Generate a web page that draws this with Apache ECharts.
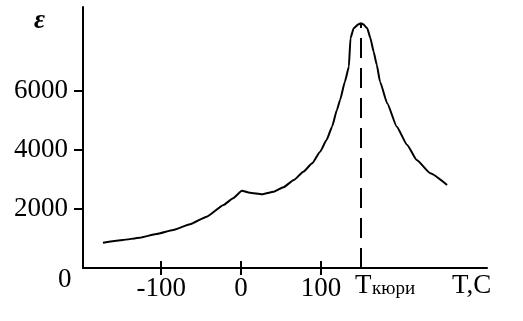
<!DOCTYPE html>
<html>
<head>
<meta charset="utf-8">
<script src="https://cdn.jsdelivr.net/npm/echarts@6/dist/echarts.min.js"></script>
<style>
  html, body { margin: 0; padding: 0; background: #fff; }
  #chart { width: 523px; height: 321px; }
</style>
</head>
<body>
<div id="chart"></div>
<script>
// температура, C
const temps = [-173, -148, -127, -106, -85, -64, -43, -22, -10, 1,
  11, 26, 41, 53, 66, 78, 89, 99, 107, 114,
  120, 124, 130, 135, 137, 141, 147, 150, 153, 158,
  162, 166, 170, 174, 183, 195, 208, 220, 237, 258]
// диэлектрическая проницаемость
const epsValues = [858, 949, 1027, 1153, 1289, 1482, 1740, 2136, 2364, 2621,
  2553, 2499, 2587, 2737, 2984, 3266, 3550, 3944, 4340, 4792,
  5358, 5697, 6318, 6826, 7789, 8128, 8264, 8300, 8264, 8128,
  7789, 7335, 6884, 6318, 5585, 4791, 4171, 3662, 3211, 2815]
const xTicks = [-100, 0, 100]
const yTicks = [2000, 4000, 6000]
const curieT = 150
const curieEps = 8300

const serif = '"Liberation Serif", "DejaVu Serif", serif'
const chart = echarts.init(document.getElementById('chart'))

const xBase = {
  type: 'value',
  min: -198,
  max: 308,
  position: 'bottom',
  splitLine: { show: false }
}

chart.setOption({
  backgroundColor: '#fff',
  animation: false,
  grid: { left: 83, right: 36, top: 7, bottom: 53 },
  xAxis: [Object.assign({}, xBase, {
    axisLine: { onZero: false, lineStyle: { color: '#000', width: 2 } },
    axisTick: { show: true, length: 7, customValues: xTicks, lineStyle: { color: '#000', width: 2 } },
    axisLabel: {
      customValues: xTicks,
      formatter: v => String(v),
      margin: 7,
      color: '#000',
      fontFamily: serif,
      fontSize: 27
    }
  }), Object.assign({}, xBase, {
    axisLine: { show: false, onZero: false },
    axisTick: { show: true, inside: true, length: 7, customValues: xTicks, lineStyle: { color: '#000', width: 2 } },
    axisLabel: { show: false }
  })],
  yAxis: {
    type: 'value',
    min: 0,
    max: 8850,
    splitLine: { show: false },
    axisLine: { show: true, onZero: false, lineStyle: { color: '#000', width: 2 } },
    axisTick: { show: true, length: 9, customValues: yTicks, lineStyle: { color: '#000', width: 2 } },
    axisLabel: {
      customValues: yTicks,
      formatter: v => String(v),
      margin: 15,
      color: '#000',
      fontFamily: serif,
      fontSize: 27
    }
  },
  series: [{
    type: 'line',
    data: temps.map((t, i) => [t, epsValues[i]]),
    smooth: 0.15,
    smoothMonotone: 'x',
    showSymbol: false,
    lineStyle: { color: '#000', width: 2 },
    markLine: {
      silent: true,
      symbol: 'none',
      label: { show: false },
      lineStyle: { color: '#000', width: 2, type: [20, 10] },
      data: [[{ coord: [curieT, 0] }, { coord: [curieT, curieEps] }]]
    }
  }],
  graphic: [
    { type: 'text', left: 58, top: 266, style: { text: '0', font: '27px ' + serif, fill: '#000' } },
    { type: 'text', x: 34, y: 21, style: { text: 'ε', font: 'italic bold 27px ' + serif, fill: '#000', verticalAlign: 'middle' } },
    { type: 'text', x: 355, y: 286, style: { text: 'T', font: '27px ' + serif, fill: '#000', verticalAlign: 'middle' } },
    { type: 'text', x: 372, y: 289, style: { text: 'кюри', font: '19px ' + serif, fill: '#000', verticalAlign: 'middle' } },
    { type: 'text', x: 452, y: 286, style: { text: 'T,C', font: '27px ' + serif, fill: '#000', verticalAlign: 'middle' } }
  ]
})
</script>
</body>
</html>
